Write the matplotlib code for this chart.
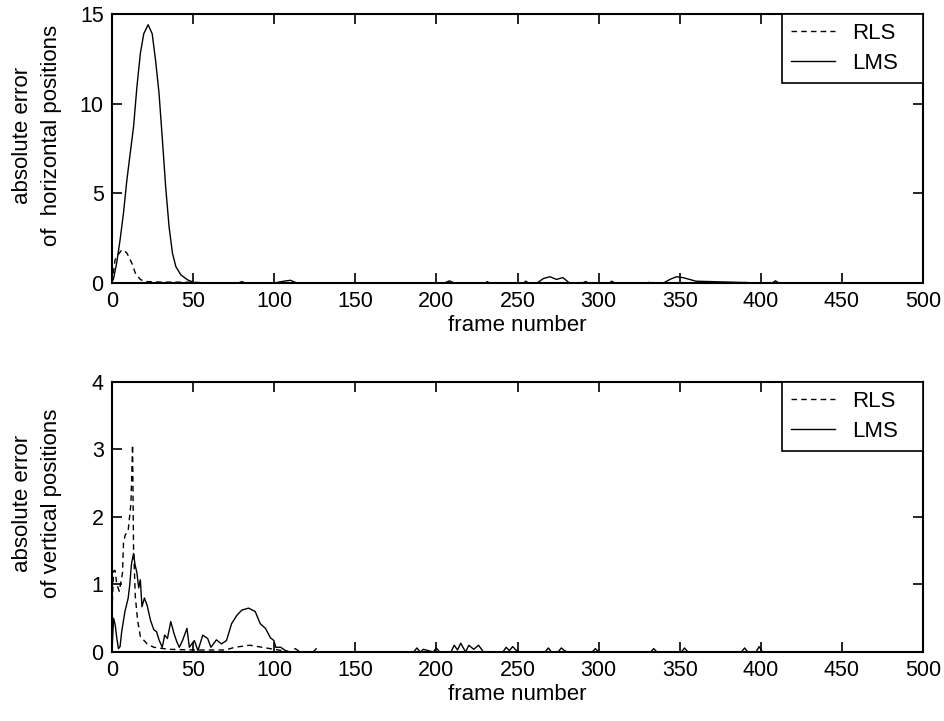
import matplotlib
matplotlib.use("Agg")
import matplotlib.pyplot as plt

plt.rcParams["font.family"] = ["Liberation Sans", "DejaVu Sans"]
plt.rcParams["font.size"] = 16

# ---- top panel: horizontal position error ----
top_lms_x = [0, 0.8, 2.9, 5, 7.1, 9.2, 11.25, 13.3, 15.4, 17.5, 19.6, 22.3, 24.8, 26.9, 29,
             31.1, 33.1, 35.2, 37.3, 39.4, 42.5, 46.7, 50.8, 60, 78, 80, 82, 100, 106, 110,
             114, 150, 205, 208, 211, 250, 262, 266, 270, 274, 278, 282, 300, 340, 344, 348,
             352, 356, 360, 400, 407, 409, 411, 500]
top_lms_y = [0.3, 0.17, 1.1, 2.4, 3.9, 5.74, 7.23, 8.7, 10.95, 12.8, 13.9, 14.4, 13.9, 12.4, 10.6,
             7.98, 5.37, 3.14, 1.66, 0.91, 0.45, 0.17, 0.02, 0.0, 0.0, 0.08, 0.0, 0.0, 0.1, 0.15,
             0.0, 0.0, 0.0, 0.12, 0.0, 0.0, 0.0, 0.25, 0.35, 0.2, 0.3, 0.0, 0.0, 0.0, 0.2, 0.35,
             0.3, 0.2, 0.1, 0.0, 0.0, 0.12, 0.0, 0.0]

top_rls_x = [0, 1.9, 4, 6, 7.5, 9.2, 12.3, 14.4, 17.5, 20, 30, 50, 60, 229, 231, 233, 253, 255,
             257, 290, 292, 294, 306, 308, 310, 328, 330, 332, 364, 366, 368, 387, 389, 391, 500]
top_rls_y = [0.0, 1.28, 1.6, 1.84, 1.8, 1.67, 1.1, 0.55, 0.2, 0.08, 0.05, 0.04, 0.0, 0.0, 0.08, 0.0,
             0.0, 0.1, 0.0, 0.0, 0.08, 0.0, 0.0, 0.1, 0.0, 0.0, 0.08, 0.0, 0.0, 0.08, 0.0, 0.0,
             0.08, 0.0, 0.0]

# ---- bottom panel: vertical position error ----
bot_lms_x = [0, 1, 2, 3, 4, 5, 6, 8, 10, 11, 12, 13.3, 14.2, 15.4, 16.5, 17.5, 18.5, 20, 21.7,
             23.75, 25.8, 27.5, 29, 31, 32.5, 34.2, 36.25, 38.3, 40, 41.5, 43.5, 46.25, 47.7,
             50.8, 53, 56, 59, 61, 64.4, 67.5, 70.6, 73.75, 76.9, 80, 84.2, 88.3, 91.4, 94.6,
             97.7, 99.8, 101, 104, 107, 110, 150, 186, 188, 190, 192, 198, 200, 202, 209, 211,
             213, 215, 218, 220, 223, 226, 229, 232, 241, 243, 245, 247, 249, 251, 267, 269, 271,
             275, 277, 279, 281, 296, 298, 300, 332, 334, 336, 351, 353, 355, 388, 390, 392, 397,
             399, 401, 500]
bot_lms_y = [0.0, 0.5, 0.4, 0.2, 0.05, 0.08, 0.3, 0.6, 0.8, 1.0, 1.3, 1.46, 1.3, 1.17, 0.95, 1.07,
             0.67, 0.8, 0.69, 0.47, 0.33, 0.3, 0.18, 0.07, 0.25, 0.2, 0.45, 0.27, 0.15, 0.07, 0.17,
             0.35, 0.07, 0.17, 0.02, 0.25, 0.2, 0.07, 0.18, 0.12, 0.17, 0.42, 0.54, 0.62, 0.65,
             0.6, 0.42, 0.35, 0.21, 0.17, 0.07, 0.07, 0.02, 0.0, 0.0, 0.0, 0.06, 0.0, 0.04, 0.0,
             0.06, 0.0, 0.0, 0.1, 0.03, 0.13, 0.0, 0.1, 0.04, 0.1, 0.0, 0.0, 0.0, 0.07, 0.02, 0.08,
             0.03, 0.0, 0.0, 0.06, 0.0, 0.0, 0.06, 0.02, 0.0, 0.0, 0.05, 0.0, 0.0, 0.05, 0.0, 0.0,
             0.06, 0.0, 0.0, 0.06, 0.0, 0.0, 0.08, 0.0, 0.0]

bot_rls_x = [0, 1, 1.9, 3, 4.5, 6.5, 7.1, 8.1, 10, 11.7, 12.7, 13.3, 14.4, 15.8, 17.5, 21.7, 25.8,
             35, 50, 70, 75.8, 85, 95, 100, 110, 113, 116, 124, 126, 128, 500]
bot_rls_y = [0.6, 1.2, 1.21, 1.0, 0.9, 1.17, 1.61, 1.73, 1.8, 2.2, 3.07, 1.56, 0.82, 0.47, 0.23,
             0.12, 0.07, 0.04, 0.03, 0.03, 0.07, 0.1, 0.06, 0.04, 0.0, 0.05, 0.0, 0.0, 0.05, 0.0, 0.0]

x_ticks = list(range(0, 501, 50))


def style_axes(ax, y_max, y_step, ylabel):
    ax.set_xlim(0, 500)
    ax.set_ylim(0, y_max)
    ax.set_xticks(x_ticks)
    ax.set_yticks(range(0, y_max + 1, y_step))
    ax.tick_params(direction="in", top=True, right=True, length=7, width=1.2, pad=6,
                   labelsize=15.5)
    for sp in ax.spines.values():
        sp.set_linewidth(1.5)
    ax.set_xlabel("frame number", labelpad=2)
    ax.set_ylabel(ylabel, linespacing=1.45)
    ax.yaxis.set_label_coords(-0.062, 0.55)
    # legend box fixed to the MATLAB-like size in the upper right corner
    h = 68 / (ax.get_position().height * 721)
    w = 141 / (ax.get_position().width * 944)
    leg = ax.legend(loc="upper right", bbox_to_anchor=(1 - w, 1 - h, w, h), mode="expand",
                    borderaxespad=0, fancybox=False, framealpha=1,
                    edgecolor="black", handlelength=2.0, handletextpad=0.75,
                    borderpad=0.4, labelspacing=0.4)
    leg.get_frame().set_linewidth(1.2)


fig = plt.figure(figsize=(9.44, 7.21), dpi=100)
ax1 = fig.add_axes([0.1186, 0.6075, 0.8592, 0.3731])
ax2 = fig.add_axes([0.1186, 0.0957, 0.8592, 0.3745])

ax1.plot(top_rls_x, top_rls_y, "k--", lw=1.0, label="RLS", dashes=(4, 3))
ax1.plot(top_lms_x, top_lms_y, "k-", lw=1.0, label="LMS")
style_axes(ax1, 15, 5, "absolute error\nof  horizontal positions")

ax2.plot(bot_rls_x, bot_rls_y, "k--", lw=1.0, label="RLS", dashes=(4, 3))
ax2.plot(bot_lms_x, bot_lms_y, "k-", lw=1.0, label="LMS")
style_axes(ax2, 4, 1, "absolute error\nof vertical positions")

fig.savefig("out.png", dpi=100)
